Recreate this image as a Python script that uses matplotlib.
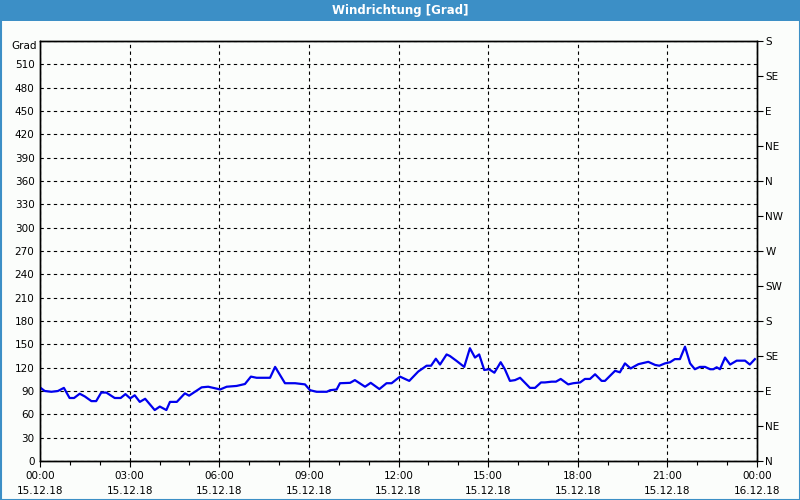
import matplotlib
matplotlib.use("Agg")
import matplotlib.pyplot as plt
from matplotlib.patches import Rectangle
from matplotlib.ticker import MultipleLocator

# ---- data (hours since 15.12.18 00:00, wind direction in degrees) ----
hours = [0.02, 0.16, 0.38, 0.60, 0.80, 0.99, 1.14, 1.33, 1.50, 1.72, 1.88, 2.05, 2.22,
         2.50, 2.70, 2.86, 3.02, 3.17, 3.34, 3.52, 3.84, 4.01, 4.23, 4.35, 4.58, 4.85,
         4.99, 5.41, 5.63, 5.86, 6.03, 6.25, 6.58, 6.86, 7.06, 7.25, 7.70, 7.87, 8.20,
         8.54, 8.87, 9.04, 9.26, 9.60, 9.71, 9.93, 10.04, 10.38, 10.54, 10.88, 11.07,
         11.36, 11.60, 11.77, 12.05, 12.36, 12.66, 12.94, 13.09, 13.25, 13.39, 13.61,
         13.72, 13.95, 14.20, 14.39, 14.56, 14.70, 14.87, 15.03, 15.21, 15.42, 15.56,
         15.73, 15.90, 16.07, 16.40, 16.57, 16.77, 16.90, 17.13, 17.27, 17.43, 17.68,
         17.85, 18.08, 18.24, 18.41, 18.58, 18.80, 18.91, 19.25, 19.41, 19.58, 19.77,
         20.03, 20.36, 20.59, 20.73, 20.92, 21.09, 21.25, 21.42, 21.59, 21.76, 21.92,
         22.09, 22.26, 22.43, 22.54, 22.65, 22.76, 22.93, 23.10, 23.32, 23.60, 23.76,
         23.93]
degrees = [94, 90, 89, 90, 94, 81, 81, 86.5, 83, 77, 77, 88, 88,
           81, 81, 86, 80.5, 84.5, 76, 80, 65.5, 70, 65.5, 76, 76, 87,
           84, 94.7, 95.5, 93.5, 92, 95.5, 96.5, 99, 108.5, 107, 107, 121, 100,
           100, 98.5, 91, 89, 89, 91, 92, 100, 100.5, 104, 95.5, 100.5,
           92.5, 100, 100, 108.5, 103, 115, 122.5, 122.5, 131.5, 124, 137,
           135, 128.5, 121, 145, 133, 137, 117, 118, 113.5, 127, 118,
           103, 104, 107, 94, 94, 101, 101, 102, 102, 105.5, 98.5,
           100, 101, 105.5, 105.5, 111.5, 103, 103, 116, 114, 125.5, 119,
           124.5, 127.5, 123.5, 122.5, 125.5, 127, 131, 131, 147, 125.5, 118,
           121, 121, 118, 118, 120.5, 118, 133, 124, 129, 129, 124,
           131]

title = "Windrichtung [Grad]"
unit_label = "Grad"
y_ticks = list(range(0, 541, 30))
y_labels = [str(v) for v in range(0, 511, 30)] + [""]
x_ticks = [0, 3, 6, 9, 12, 15, 18, 21, 24]
time_labels = ["00:00", "03:00", "06:00", "09:00", "12:00", "15:00", "18:00", "21:00", "00:00"]
date_labels = ["15.12.18"] * 8 + ["16.12.18"]
compass_ticks = list(range(0, 541, 45))
compass_labels = ["N", "NE", "E", "SE", "S", "SW", "W", "NW", "N", "NE", "E", "SE", "S"]

bg = "#fbfdfb"
blue_bar = "#3c8fc6"

fig = plt.figure(figsize=(8, 5), dpi=100, facecolor=bg)

# title bar and outer border
fig.patches.append(Rectangle((0, 1 - 21 / 500), 1, 21 / 500, transform=fig.transFigure,
                             facecolor=blue_bar, edgecolor="none", zorder=0))
fig.patches.append(Rectangle((0.5 / 800, 0.5 / 500), 1 - 1 / 800, 1 - 1 / 500,
                             transform=fig.transFigure, facecolor="none",
                             edgecolor=blue_bar, linewidth=1.5, zorder=5))
fig.text(0.5, 1 - 10.5 / 500, title, color="white", fontsize=8.5, fontweight="bold",
         ha="center", va="center", family="DejaVu Sans")

ax = fig.add_axes([40 / 800, 1 - 461 / 500, 717 / 800, 420 / 500])
ax.set_facecolor(bg)
ax.plot(hours, degrees, color="#0000ee", linewidth=1.6, zorder=3)

ax.set_xlim(0, 24)
ax.set_ylim(0, 540)
ax.set_yticks(y_ticks)
ax.set_yticklabels(y_labels, fontsize=7.5)
ax.annotate(unit_label, xy=(0, 540), xycoords=("axes fraction", "data"),
            xytext=(-2.5, 0), textcoords="offset points",
            ha="right", va="top", fontsize=7.5)
ax.set_xticks(x_ticks)
ax.set_xticklabels([f"{t}\n{d}" for t, d in zip(time_labels, date_labels)],
                   fontsize=7.5, linespacing=1.6)
ax.xaxis.set_minor_locator(MultipleLocator(1))
ax.tick_params(axis="y", which="both", length=0, pad=4)
ax.tick_params(axis="x", which="major", length=4, pad=3, width=0.8)
ax.tick_params(axis="x", which="minor", length=3, width=0.8)
ax.grid(True, which="major", color="black", linestyle=(0, (3, 3)), linewidth=0.8)
for s in ax.spines.values():
    s.set_color("black")
    s.set_linewidth(1.0)

ax2 = ax.twinx()
ax2.set_ylim(0, 540)
ax2.set_yticks(compass_ticks)
ax2.set_yticklabels(compass_labels, fontsize=7.5)
ax2.tick_params(axis="y", length=4, pad=2, width=0.8)
for s in ax2.spines.values():
    s.set_color("black")
    s.set_linewidth(1.0)

fig.savefig("out.png", dpi=100, facecolor=bg)
